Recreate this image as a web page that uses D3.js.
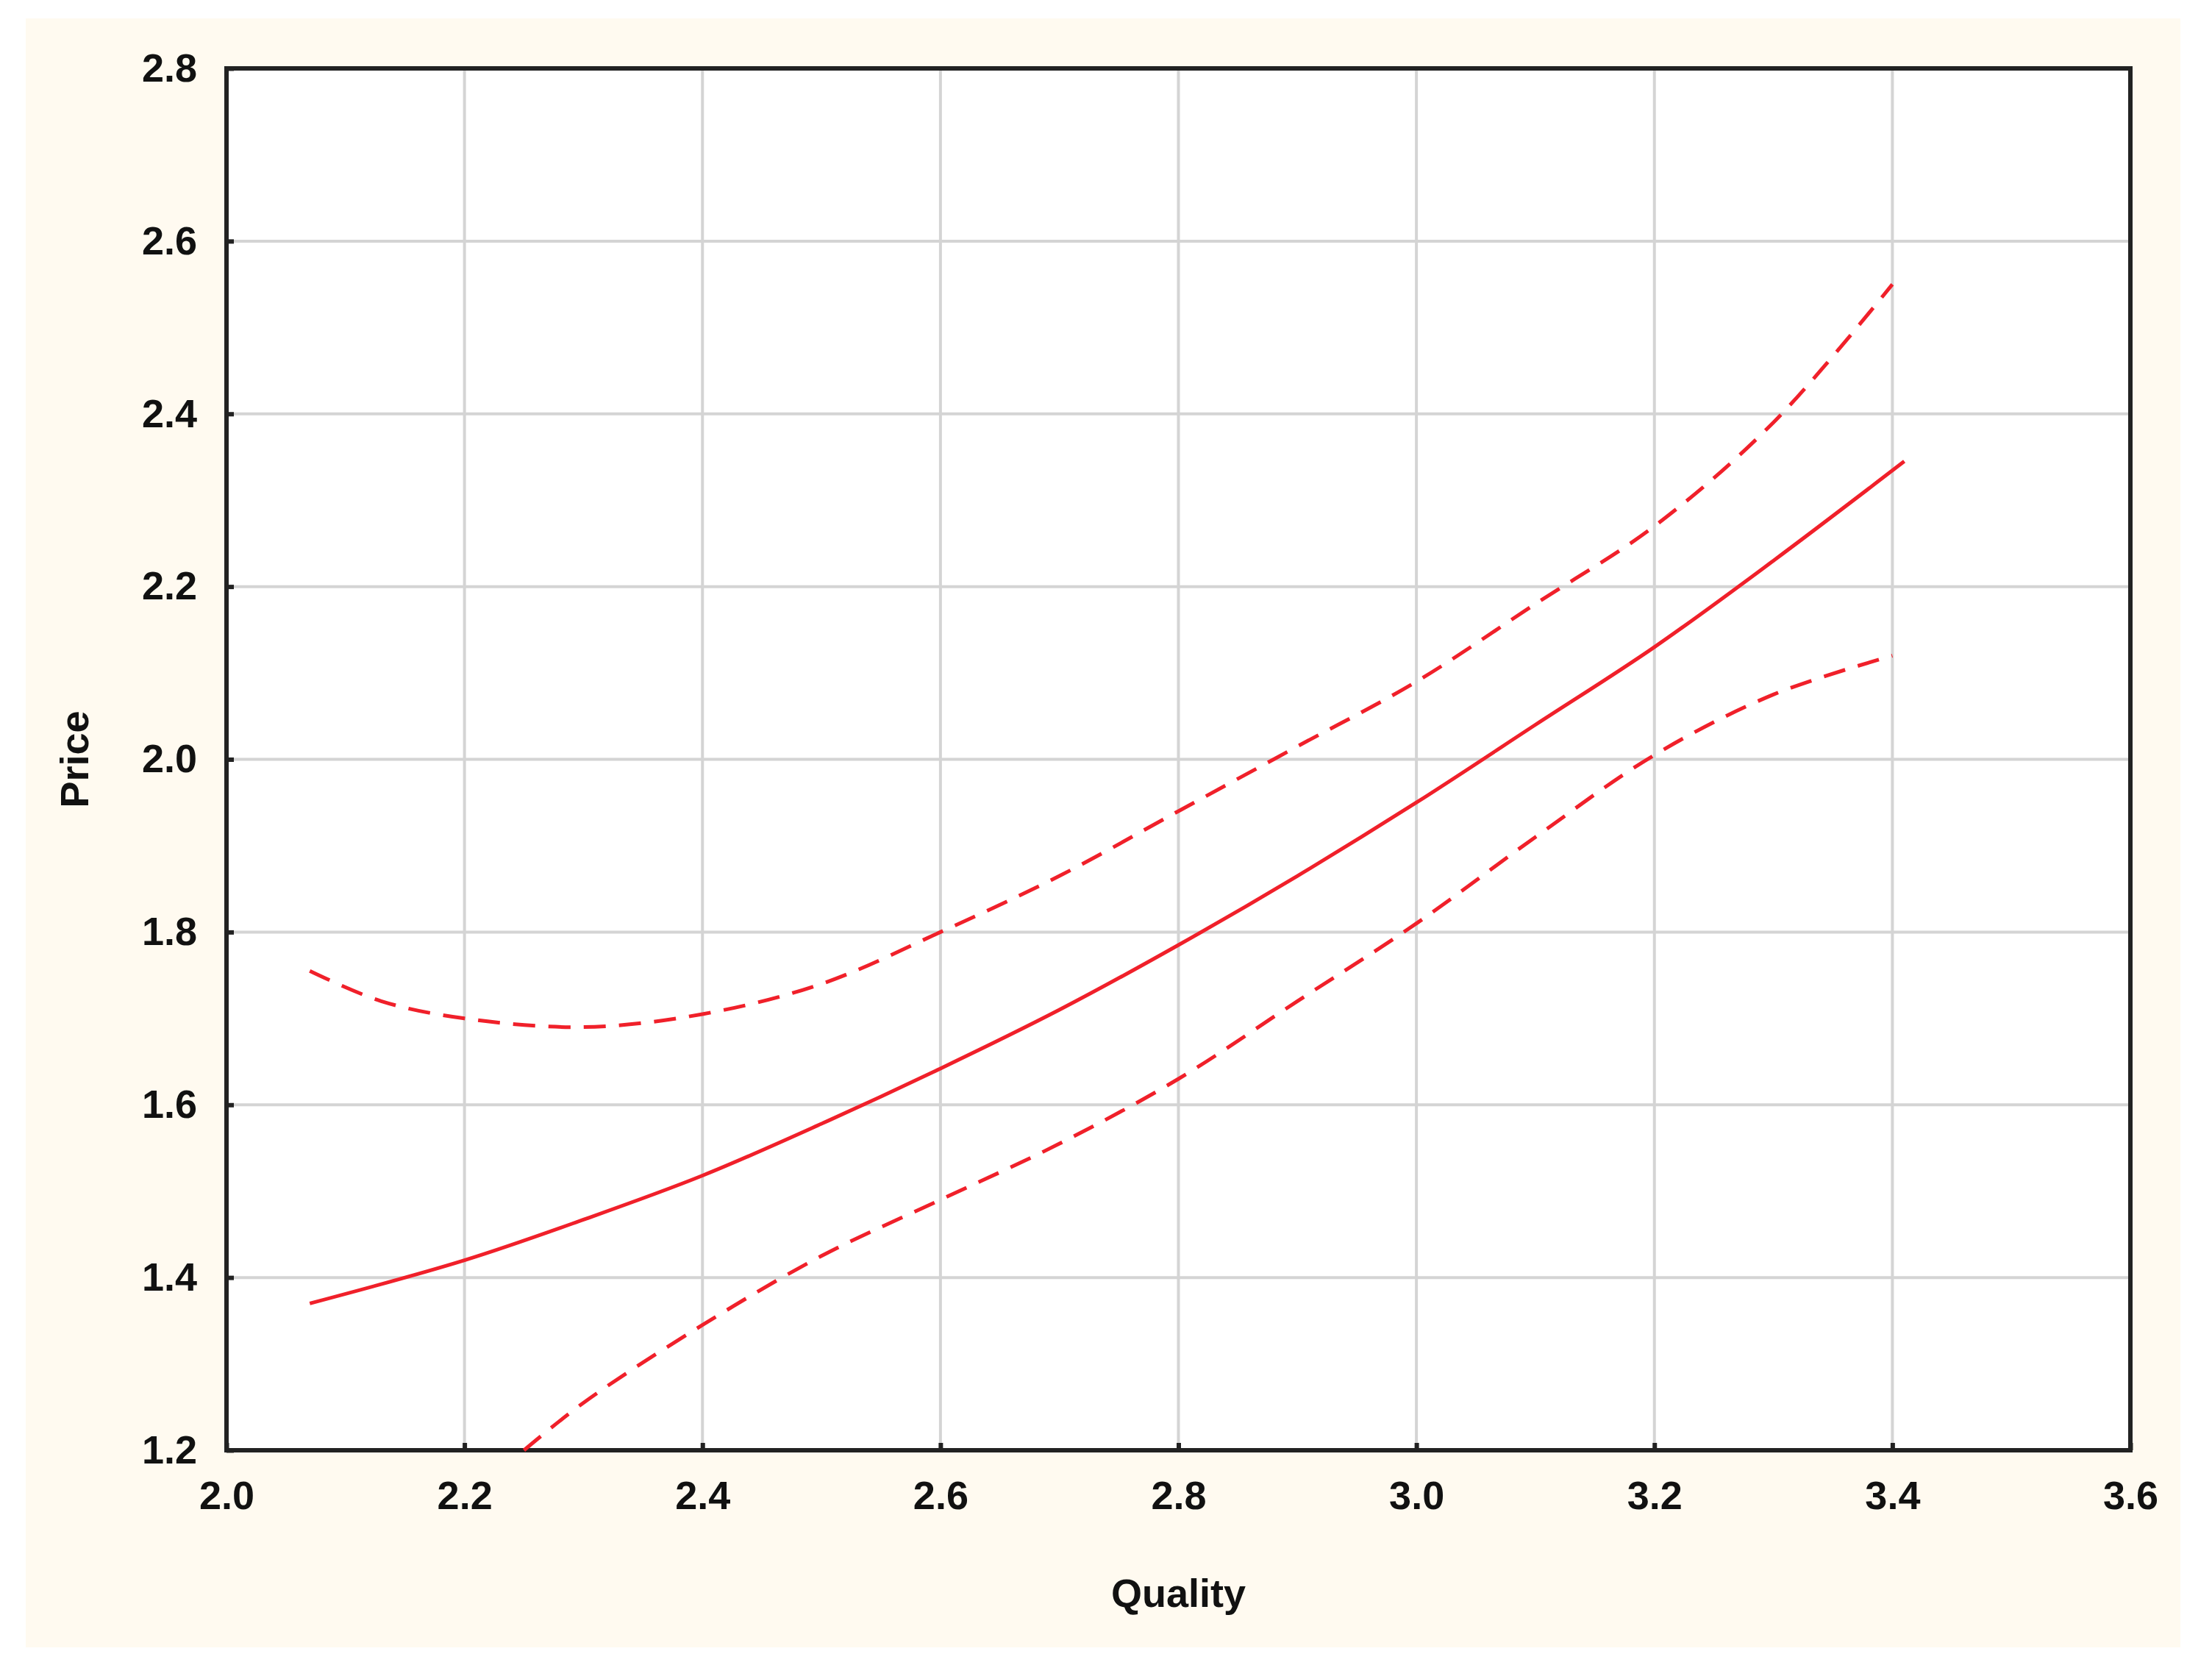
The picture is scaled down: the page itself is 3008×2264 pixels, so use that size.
<!DOCTYPE html>
<html>
<head>
<meta charset="utf-8">
<script src="https://cdn.jsdelivr.net/npm/d3@7"></script>
<style>
  body { margin: 0; background: #fff; }
  text { font-family: "Liberation Sans", Arial, sans-serif; fill: #111; }
</style>
</head>
<body>
<div id="chart"></div>
<script>
// Values
const fitX = [2.07, 2.2, 2.3, 2.4, 2.5, 2.6, 2.7, 2.8, 2.9, 3.0, 3.1, 3.2, 3.3, 3.41];
const fitY = [1.37, 1.42, 1.467, 1.518, 1.578, 1.642, 1.71, 1.785, 1.865, 1.95, 2.04, 2.13, 2.23, 2.345];

const upperX = [2.07, 2.13, 2.2, 2.3, 2.4, 2.5, 2.6, 2.7, 2.8, 2.9, 3.0, 3.1, 3.2, 3.3, 3.4];
const upperY = [1.755, 1.72, 1.70, 1.69, 1.705, 1.74, 1.80, 1.865, 1.94, 2.015, 2.09, 2.18, 2.27, 2.39, 2.55];

const lowerX = [2.25, 2.3, 2.4, 2.5, 2.6, 2.7, 2.8, 2.9, 3.0, 3.1, 3.2, 3.3, 3.4];
const lowerY = [1.20, 1.255, 1.345, 1.425, 1.49, 1.555, 1.63, 1.72, 1.81, 1.91, 2.005, 2.075, 2.12];

const xTicks = [2.0, 2.2, 2.4, 2.6, 2.8, 3.0, 3.2, 3.4, 3.6];
const yTicks = [1.2, 1.4, 1.6, 1.8, 2.0, 2.2, 2.4, 2.6, 2.8];

const W = 3008, H = 2264;
const m = { left: 308, right: W - 2897, top: 93, bottom: H - 1972 };

const svg = d3.select("#chart").append("svg").attr("width", W).attr("height", H);

// cream panel behind the chart
svg.append("rect").attr("x", 35).attr("y", 25).attr("width", 2930).attr("height", 2215)
  .attr("fill", "#fffaf0");

const x = d3.scaleLinear().domain([2.0, 3.6]).range([m.left, W - m.right]);
const y = d3.scaleLinear().domain([1.2, 2.8]).range([H - m.bottom, m.top]);

svg.append("rect").attr("x", m.left).attr("y", m.top)
  .attr("width", x(3.6) - x(2.0)).attr("height", y(1.2) - y(2.8)).attr("fill", "#fff");

// grid
svg.append("g").selectAll("line").data(xTicks.slice(1, -1)).join("line")
  .attr("x1", d => x(d)).attr("x2", d => x(d)).attr("y1", m.top).attr("y2", H - m.bottom)
  .attr("stroke", "#d4d4d4").attr("stroke-width", 4);
svg.append("g").selectAll("line").data(yTicks.slice(1, -1)).join("line")
  .attr("y1", d => y(d)).attr("y2", d => y(d)).attr("x1", m.left).attr("x2", W - m.right)
  .attr("stroke", "#d4d4d4").attr("stroke-width", 4);

// axes
const xAxis = svg.append("g").attr("transform", `translate(0,${H - m.bottom})`)
  .call(d3.axisBottom(x).tickValues(xTicks).tickFormat(d3.format(".1f")).tickSize(-10).tickPadding(42));
const yAxis = svg.append("g").attr("transform", `translate(${m.left},0)`)
  .call(d3.axisLeft(y).tickValues(yTicks).tickFormat(d3.format(".1f")).tickSize(-10).tickPadding(40));
[xAxis, yAxis].forEach(a => {
  a.select(".domain").remove();
  a.selectAll("line").attr("stroke", "#222").attr("stroke-width", 6);
  a.selectAll("text").attr("font-size", 54).attr("font-weight", "bold").attr("fill", "#1a1a1a");
});

// frame
svg.append("rect").attr("x", m.left).attr("y", m.top)
  .attr("width", x(3.6) - x(2.0)).attr("height", y(1.2) - y(2.8))
  .attr("fill", "none").attr("stroke", "#222").attr("stroke-width", 6);

// curves
const line = d3.line().x(d => x(d[0])).y(d => y(d[1])).curve(d3.curveCatmullRom);
svg.append("path").datum(d3.zip(fitX, fitY)).attr("d", line)
  .attr("fill", "none").attr("stroke", "#f0202a").attr("stroke-width", 5);
[[upperX, upperY], [lowerX, lowerY]].forEach(([xs, ys]) => {
  svg.append("path").datum(d3.zip(xs, ys)).attr("d", line)
    .attr("fill", "none").attr("stroke", "#f0202a").attr("stroke-width", 5)
    .attr("stroke-dasharray", "30 18");
});

// axis titles
svg.append("text").attr("x", (x(2.0) + x(3.6)) / 2).attr("y", 2185)
  .attr("text-anchor", "middle").attr("font-size", 54).attr("font-weight", "bold").text("Quality");
svg.append("text").attr("transform", `translate(120,${(y(1.2) + y(2.8)) / 2}) rotate(-90)`)
  .attr("text-anchor", "middle").attr("font-size", 54).attr("font-weight", "bold").text("Price");
</script>
</body>
</html>
